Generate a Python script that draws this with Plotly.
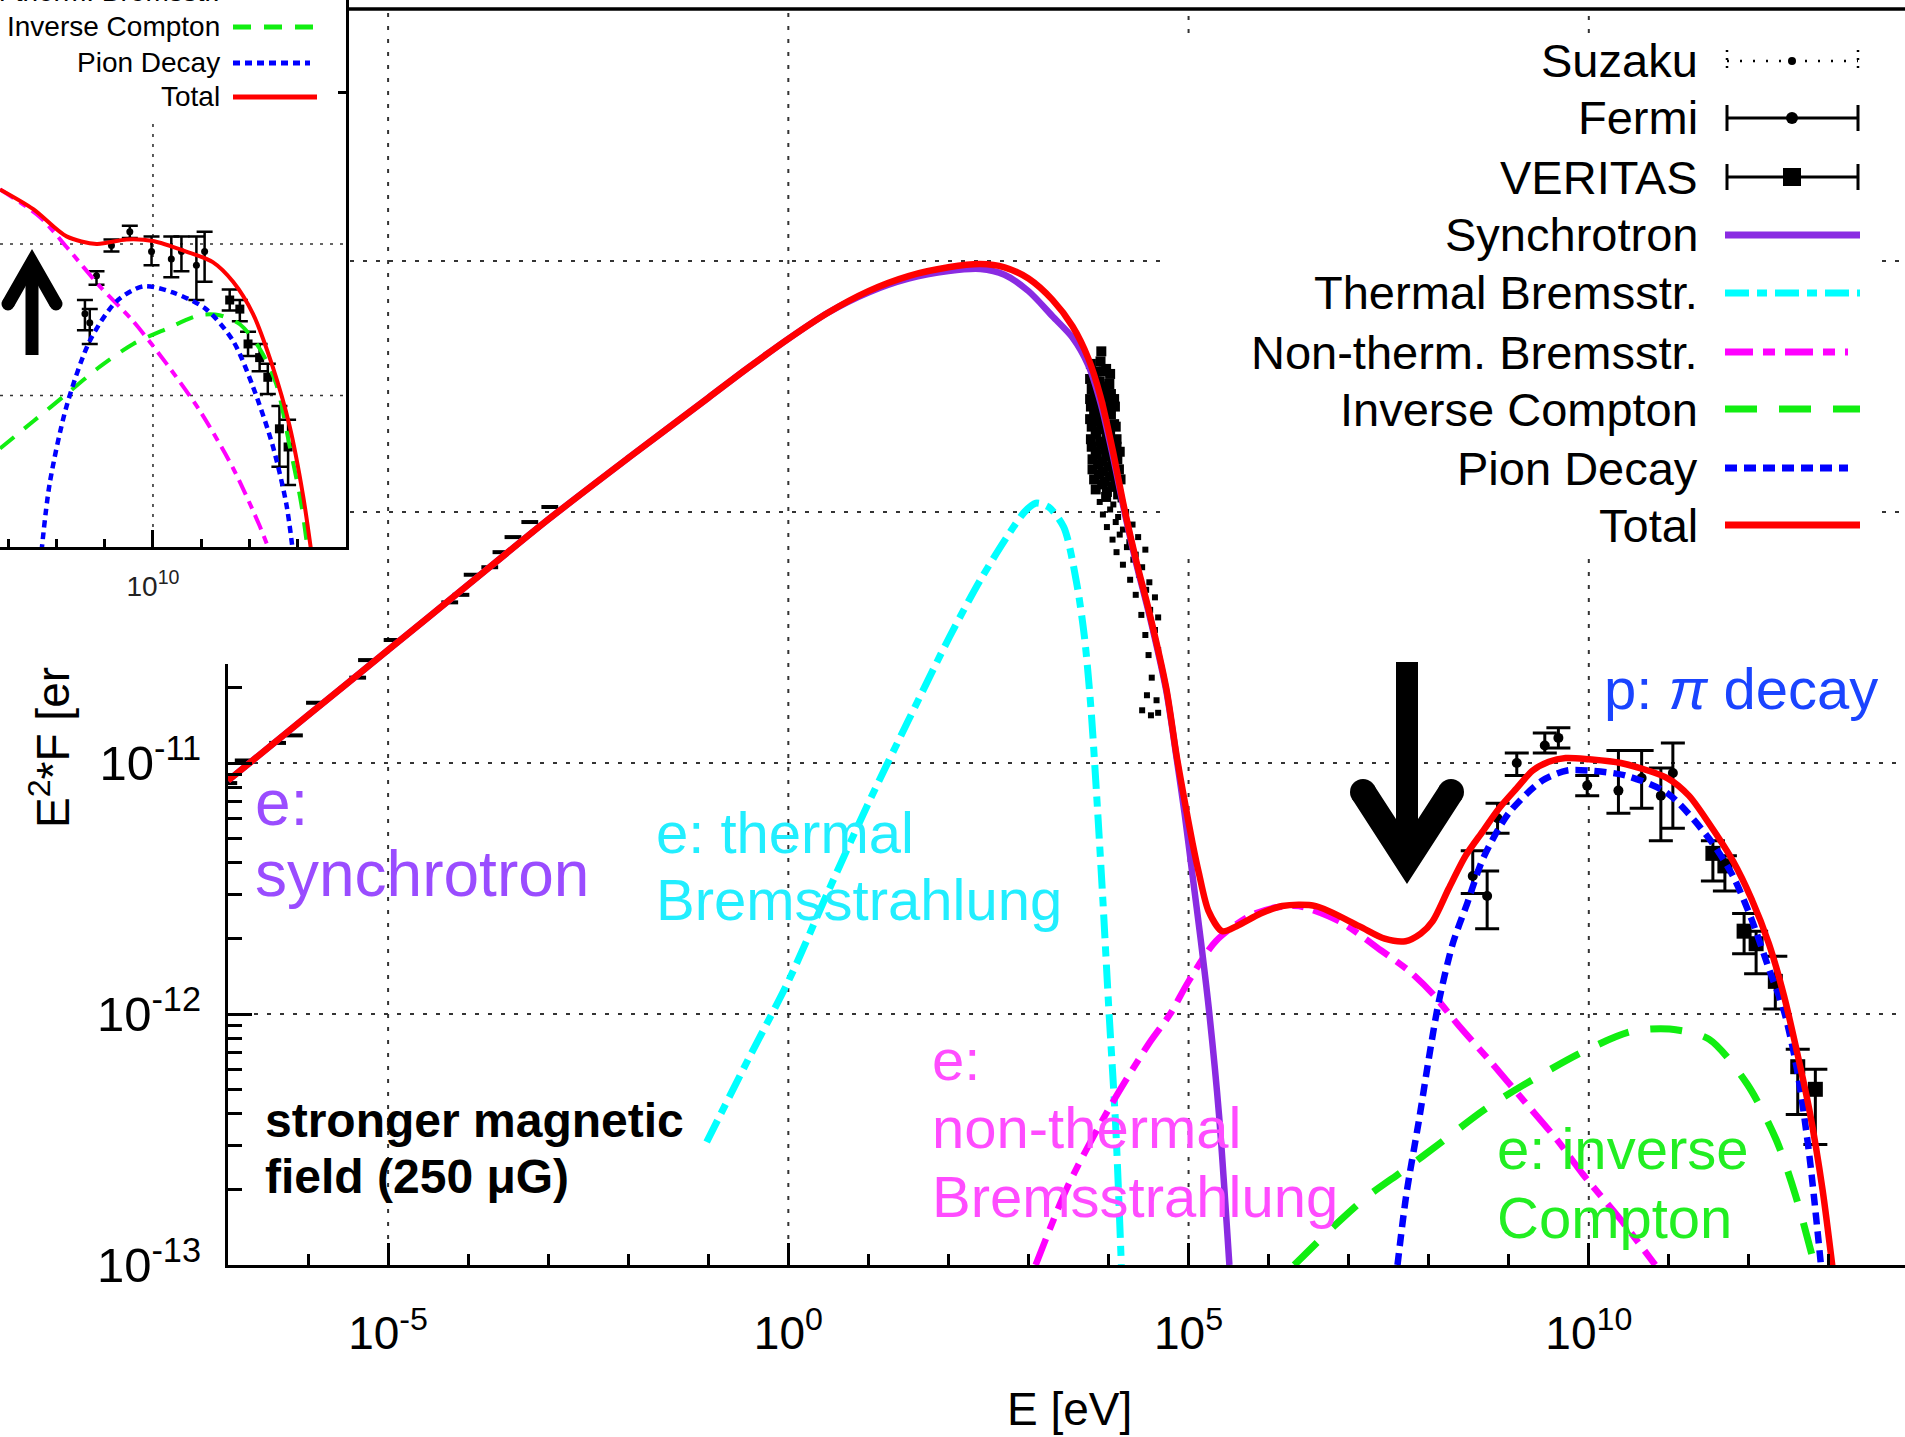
import plotly.graph_objects as go

W, H = 1905, 1437
FONT = "Liberation Sans, Arial, Helvetica, sans-serif"

# ---------------- main panel: log10(E/eV) and log10(E^2 F) ----------------
total_logE = [-7.0, -6.0, -5.0, -4.0, -3.0, -2.0, -1.0, -0.5, 0.0, 0.5, 1.0, 1.5, 2.0, 2.4, 2.7, 3.0, 3.3, 3.55, 3.75, 3.9, 4.05,
              4.2, 4.35, 4.51, 4.72, 4.85, 4.95, 5.05, 5.13, 5.25, 5.42, 5.6, 5.9, 6.17, 6.59, 7.13, 7.45, 7.71, 7.9, 8.05, 8.25, 8.46,
              8.68, 8.88, 9.1, 9.3, 9.5, 9.71, 10.0, 10.4, 10.98, 11.25, 11.5, 11.8, 12.03, 12.25, 12.44, 12.6, 12.76, 12.92, 13.06]
total_logF = [-11.07, -10.81, -10.55, -10.29, -10.03, -9.785, -9.545, -9.425, -9.31, -9.205, -9.12, -9.06, -9.025, -9.012, -9.025, -9.07, -9.155, -9.26, -9.39, -9.54, -9.75,
              -9.99, -10.20, -10.40, -10.70, -10.97, -11.15, -11.32, -11.44, -11.59, -11.67, -11.65, -11.60, -11.57, -11.57, -11.65, -11.70, -11.71, -11.68, -11.63, -11.50, -11.37,
              -11.27, -11.18, -11.10, -11.03, -10.995, -10.98, -10.985, -11.0, -11.06, -11.13, -11.24, -11.39, -11.54, -11.72, -11.93, -12.15, -12.39, -12.70, -13.05]

sync_logE = [-7.0, -6.0, -5.0, -4.0, -3.0, -2.0, -1.0, -0.5, 0.0, 0.5, 1.0, 1.5, 2.0, 2.4, 2.7, 3.0, 3.3, 3.55, 3.75, 3.9, 4.05,
             4.2, 4.35, 4.51, 4.72, 4.85, 4.95, 5.05, 5.15, 5.25, 5.38, 5.51]
sync_logF = [-11.07, -10.81, -10.55, -10.29, -10.03, -9.785, -9.545, -9.425, -9.31, -9.205, -9.125, -9.07, -9.04, -9.032, -9.055, -9.12, -9.22, -9.305, -9.417, -9.565, -9.77,
             -10.0, -10.21, -10.41, -10.71, -10.98, -11.2, -11.45, -11.7, -11.97, -12.4, -13.0]

thermal_logE = [-1.02, -0.5, 0.0, 0.5, 1.0, 1.5, 2.01, 2.4, 2.73, 2.95, 3.09, 3.25, 3.44, 3.60, 3.70, 3.78, 3.85, 3.93, 4.0, 4.09, 4.16]
thermal_logF = [-12.51, -12.18, -11.87, -11.51, -11.16, -10.83, -10.50, -10.27, -10.10, -10.0, -9.965, -9.98, -10.06, -10.28, -10.50, -10.78, -11.12, -11.55, -11.96, -12.45, -13.0]

nonth_logE = [3.09, 3.5, 4.0, 4.5, 4.77, 5.0, 5.34, 5.76, 6.1, 6.38, 6.88, 7.42, 7.76, 8.05, 8.36, 8.8, 9.2, 9.6, 9.93, 10.4, 10.83]
nonth_logF = [-13.0, -12.68, -12.38, -12.12, -12.0, -11.87, -11.71, -11.61, -11.575, -11.57, -11.63, -11.75, -11.83, -11.92, -12.04, -12.20, -12.35, -12.50, -12.64, -12.82, -13.0]

ic_logE = [6.32, 6.8, 7.22, 7.7, 8.12, 8.7, 9.2, 9.93, 10.53, 11.01, 11.5, 11.98, 12.34, 12.58, 12.82]
ic_logF = [-13.0, -12.85, -12.73, -12.62, -12.52, -12.38, -12.28, -12.15, -12.07, -12.06, -12.10, -12.28, -12.50, -12.72, -13.0]

pion_logE = [7.61, 7.72, 7.88, 8.0, 8.12, 8.3, 8.48, 8.68, 9.0, 9.42, 9.73, 10.0, 10.46, 10.98, 11.5, 11.8, 12.03, 12.25, 12.44, 12.6, 12.75, 12.9]
pion_logF = [-13.0, -12.72, -12.42, -12.18, -11.96, -11.72, -11.56, -11.38, -11.20, -11.07, -11.03, -11.03, -11.05, -11.12, -11.30, -11.45, -11.62, -11.82, -11.99, -12.22, -12.55, -13.0]

radio_logE = [-6.99, -6.81, -6.38, -6.17, -5.92, -5.38, -5.27, -4.95, -4.23, -4.09, -3.95, -3.73, -3.59, -3.44, -3.23, -2.98]
radio_logF = [-11.08, -10.99, -10.92, -10.89, -10.76, -10.66, -10.59, -10.51, -10.36, -10.33, -10.25, -10.22, -10.16, -10.10, -10.04, -9.98]

suzaku_logE = [3.91,
               3.78, 3.85, 3.90, 3.97, 4.02, 3.77, 3.82, 3.89, 3.94, 4.01, 3.79, 3.84, 3.91, 3.96, 4.03,
               3.77, 3.83, 3.88, 3.95, 4.02, 4.07, 3.78, 3.85, 3.90, 3.97, 4.03, 4.08, 3.77, 3.82, 3.89, 3.94, 4.01, 4.07,
               3.79, 3.84, 3.91, 3.96, 4.02, 4.09, 3.78, 3.85, 3.90, 3.98, 4.03, 4.10, 3.79, 3.84, 3.91, 3.96, 4.04, 4.10, 4.14,
               3.80, 3.85, 3.92, 3.97, 4.05, 4.11, 3.80, 3.87, 3.93, 4.00, 4.06, 4.13, 3.82, 3.88, 3.95, 4.02, 4.09, 4.15,
               3.84, 3.92, 3.98, 4.05, 4.12, 3.89, 3.97, 4.06, 4.15, 3.93, 4.02, 4.12, 4.22, 3.98, 4.09, 4.18, 4.30,
               4.05, 4.14, 4.26, 4.37, 4.10, 4.23, 4.34, 4.46, 4.18, 4.31, 4.42, 4.27, 4.38, 4.51, 4.34, 4.47, 4.58,
               4.41, 4.52, 4.62, 4.46, 4.58, 4.50, 4.62, 4.54, 4.48, 4.60, 4.42, 4.53, 4.62]
suzaku_logF = [-9.36,
               -9.41, -9.44, -9.40, -9.43, -9.45, -9.47, -9.45, -9.48, -9.44, -9.49, -9.51, -9.49, -9.52, -9.50, -9.53,
               -9.55, -9.53, -9.56, -9.54, -9.57, -9.55, -9.58, -9.60, -9.57, -9.59, -9.61, -9.58, -9.63, -9.61, -9.64, -9.62, -9.60, -9.65,
               -9.66, -9.68, -9.65, -9.67, -9.69, -9.66, -9.71, -9.69, -9.72, -9.70, -9.73, -9.71, -9.74, -9.76, -9.73, -9.75, -9.77, -9.74, -9.76,
               -9.79, -9.77, -9.80, -9.78, -9.81, -9.79, -9.83, -9.81, -9.84, -9.82, -9.85, -9.83, -9.87, -9.85, -9.88, -9.86, -9.89, -9.87,
               -9.91, -9.89, -9.92, -9.90, -9.93, -9.96, -9.94, -9.97, -9.95, -10.01, -9.99, -10.02, -10.00, -10.06, -10.04, -10.07, -10.05,
               -10.11, -10.09, -10.12, -10.10, -10.16, -10.14, -10.17, -10.15, -10.21, -10.19, -10.22, -10.27, -10.25, -10.28, -10.33, -10.31, -10.34,
               -10.41, -10.39, -10.42, -10.49, -10.47, -10.57, -10.55, -10.66, -10.73, -10.75, -10.79, -10.81, -10.80]

fermi_logE = [8.55, 8.73, 8.86, 9.10, 9.45, 9.62, 9.98, 10.37, 10.66, 10.90, 11.05]
fermi_logF = [-11.45, -11.53, -11.22, -11.00, -10.93, -10.90, -11.09, -11.11, -11.06, -11.13, -11.04]
fermi_lo = [-11.52, -11.66, -11.28, -11.05, -10.96, -10.94, -11.13, -11.20, -11.18, -11.31, -11.26]
fermi_hi = [-11.35, -11.43, -11.16, -10.96, -10.88, -10.86, -11.05, -10.95, -10.95, -11.02, -10.92]

ver_logE = [11.55, 11.70, 11.94, 12.09, 12.33, 12.61, 12.83]
ver_logF = [-11.36, -11.41, -11.67, -11.72, -11.87, -12.21, -12.30]
ver_lo = [-11.47, -11.51, -11.76, -11.84, -11.98, -12.40, -12.52]
ver_hi = [-11.31, -11.37, -11.60, -11.67, -11.77, -12.14, -12.22]

# ---------------- inset panel (weaker field model) ----------------
in_total_logE = [6.83, 7.52, 8.21, 8.83, 9.45, 10.0, 10.69, 11.24, 11.66, 12.07, 12.48, 12.83, 13.11, 13.28]
in_total_logF = [-10.64, -10.77, -10.95, -11.0, -10.97, -10.98, -11.05, -11.12, -11.25, -11.46, -11.81, -12.20, -12.66, -13.03]
in_nonth_logE = [6.83, 7.65, 8.21, 8.90, 9.59, 10.28, 10.97, 11.66, 12.21, 12.42]
in_nonth_logF = [-10.64, -10.82, -11.02, -11.28, -11.51, -11.79, -12.10, -12.48, -12.86, -13.03]
in_pion_logE = [7.69, 7.86, 8.21, 8.69, 9.24, 9.79, 10.41, 11.10, 11.66, 12.07, 12.48, 12.76, 12.90]
in_pion_logF = [-13.03, -12.58, -12.07, -11.64, -11.38, -11.28, -11.32, -11.43, -11.64, -11.94, -12.33, -12.71, -13.03]
in_ic_logE = [6.83, 7.52, 8.21, 8.90, 9.59, 10.28, 10.97, 11.38, 11.80, 12.21, 12.55, 12.83, 13.07, 13.21]
in_ic_logF = [-12.35, -12.17, -11.99, -11.81, -11.66, -11.56, -11.47, -11.47, -11.53, -11.69, -11.92, -12.33, -12.71, -13.03]
in_fermi_logE = [8.59, 8.69, 8.83, 9.14, 9.52, 9.97, 10.38, 10.59, 10.90, 11.07]
in_fermi_logF = [-11.46, -11.52, -11.21, -11.01, -10.92, -11.05, -11.10, -11.05, -11.14, -11.05]
in_fermi_lo = [-11.57, -11.66, -11.27, -11.05, -10.96, -11.14, -11.22, -11.18, -11.37, -11.25]
in_fermi_hi = [-11.37, -11.43, -11.18, -10.97, -10.88, -10.95, -10.95, -10.95, -10.95, -10.92]
in_ver_logE = [11.59, 11.80, 11.97, 12.21, 12.38, 12.62, 12.80]
in_ver_logF = [-11.37, -11.43, -11.66, -11.75, -11.88, -12.22, -12.34]
in_ver_lo = [-11.44, -11.51, -11.74, -11.84, -11.99, -12.47, -12.59]
in_ver_hi = [-11.30, -11.37, -11.58, -11.66, -11.79, -12.07, -12.16]

# tick labels
x_major_exp = [-5, 0, 5, 10]
y_major_exp = [-13, -12, -11]
inset_x_major_exp = [10]

legend_names = ["Suzaku", "Fermi", "VERITAS", "Synchrotron", "Thermal Bremsstr.",
                "Non-therm. Bremsstr.", "Inverse Compton", "Pion Decay", "Total"]
inset_legend_names = ["Non-therm. Bremsstr.", "Inverse Compton", "Pion Decay", "Total"]

# ---------------- colours / styles ----------------
C_SYNC, C_TH, C_NT, C_IC, C_PI, C_TOT = "#8a2be2", "#00ffff", "#ff00ff", "#11ee11", "#0000ff", "#ff0000"
D_TH, D_NT, D_IC, D_PI = "24px,8px,10px,8px", "28px,10px,12px,10px", "32px,22px", "12px,7px"


def P(v):
    return [10 ** a for a in v]


def err(logv, lo, hi):
    plus = [10 ** h - 10 ** v for v, h in zip(logv, hi)]
    minus = [10 ** v - 10 ** l for v, l in zip(logv, lo)]
    return plus, minus


# geometry in pixels
PL, PT, PB = 228, 10, 1265
XR = [-7.0, 13.95]
YR = [-13.0, -8.0]
IN_R, IN_B = 346, 547
IXR = [6.83, 14.0]
IYR = [-13.0, -9.39]


def lx(X):
    return XR[0] + (X - PL) / (W - PL) * (XR[1] - XR[0])


def ly(Y):
    return YR[1] - (Y - PT) / (PB - PT) * (YR[1] - YR[0])


def ily(Y):
    return IYR[1] - Y / IN_B * (IYR[1] - IYR[0])


def px(X):
    return X / W


def py(Y):
    return 1 - Y / H


fig = go.Figure()

# ---- main gridlines (gnuplot-like, hidden behind key box and inset) ----
box_x0, box_x1, box_y0, box_y1 = lx(1160), lx(1882), ly(552), ly(33)
inset_x_edge, inset_y_edge = lx(IN_R + 4), ly(IN_B + 2)
gx, gy = [], []
for v in x_major_exp:
    segs = [(YR[0], YR[1])]
    if box_x0 < v < box_x1:
        segs = [(YR[0], box_y0), (box_y1, YR[1])]
    for a, b in segs:
        gx += [10 ** v, 10 ** v, None]
        gy += [10 ** a, 10 ** b, None]
for v in [-12, -11, -10, -9]:
    start = inset_x_edge if v > inset_y_edge else XR[0]
    segs = [(start, XR[1])]
    if box_y0 < v < box_y1:
        segs = [(start, box_x0), (box_x1, XR[1])]
    for a, b in segs:
        gx += [10 ** a, 10 ** b, None]
        gy += [10 ** v, 10 ** v, None]
fig.add_trace(go.Scatter(x=gx, y=gy, mode="lines", line=dict(color="#333", width=2, dash="4px,9px"),
                         hoverinfo="skip", xaxis="x", yaxis="y"))

# ---- main data ----
suzaku_size = [10 if f > -9.95 else 6 for f in suzaku_logF]
fig.add_trace(go.Scatter(x=P(suzaku_logE), y=P(suzaku_logF), mode="markers",
                         marker=dict(symbol="square", size=suzaku_size, color="black", opacity=1,
                                     line=dict(width=0)), xaxis="x", yaxis="y"))
fig.add_trace(go.Scatter(x=P(radio_logE), y=P(radio_logF), mode="markers",
                         marker=dict(symbol="line-ew", size=12, line=dict(width=4, color="black")), xaxis="x", yaxis="y"))
fp, fm = err(fermi_logF, fermi_lo, fermi_hi)
fig.add_trace(go.Scatter(x=P(fermi_logE), y=P(fermi_logF), mode="markers",
                         marker=dict(symbol="circle", size=10, color="black"),
                         error_y=dict(type="data", array=fp, arrayminus=fm, color="black", thickness=3, width=12),
                         xaxis="x", yaxis="y"))
vp, vm = err(ver_logF, ver_lo, ver_hi)
fig.add_trace(go.Scatter(x=P(ver_logE), y=P(ver_logF), mode="markers",
                         marker=dict(symbol="square", size=15, color="black"),
                         error_y=dict(type="data", array=vp, arrayminus=vm, color="black", thickness=3, width=12),
                         xaxis="x", yaxis="y"))


# ---- main model curves ----
def curve(xs, ys, color, width, dash=None, xa="x", ya="y"):
    fig.add_trace(go.Scatter(x=P(xs), y=P(ys), mode="lines",
                             line=dict(color=color, width=width, dash=dash, shape="spline", smoothing=0.8),
                             xaxis=xa, yaxis=ya))


curve(thermal_logE, thermal_logF, C_TH, 7, D_TH)
curve(nonth_logE, nonth_logF, C_NT, 6.5, D_NT)
curve(ic_logE, ic_logF, C_IC, 7, D_IC)
curve(pion_logE, pion_logF, C_PI, 6.5, D_PI)
curve(sync_logE, sync_logF, C_SYNC, 6.5)
curve(total_logE, total_logF, C_TOT, 6.5)

# ---- inset gridlines ----
igx, igy = [], []
for v in inset_x_major_exp:
    igx += [10 ** v, 10 ** v, None]
    igy += [10 ** IYR[0], 10 ** ily(120), None]
for v in [-12, -11]:
    igx += [10 ** IXR[0], 10 ** IXR[1], None]
    igy += [10 ** v, 10 ** v, None]
fig.add_trace(go.Scatter(x=igx, y=igy, mode="lines", line=dict(color="#333", width=1.6, dash="3px,7px"),
                         xaxis="x2", yaxis="y2"))

ifp, ifm = err(in_fermi_logF, in_fermi_lo, in_fermi_hi)
fig.add_trace(go.Scatter(x=P(in_fermi_logE), y=P(in_fermi_logF), mode="markers",
                         marker=dict(symbol="circle", size=7, color="black"),
                         error_y=dict(type="data", array=ifp, arrayminus=ifm, color="black", thickness=2.5, width=8),
                         xaxis="x2", yaxis="y2"))
ivp, ivm = err(in_ver_logF, in_ver_lo, in_ver_hi)
fig.add_trace(go.Scatter(x=P(in_ver_logE), y=P(in_ver_logF), mode="markers",
                         marker=dict(symbol="square", size=9, color="black"),
                         error_y=dict(type="data", array=ivp, arrayminus=ivm, color="black", thickness=2.5, width=8),
                         xaxis="x2", yaxis="y2"))
curve(in_nonth_logE, in_nonth_logF, C_NT, 4, "16px,7px,8px,7px", "x2", "y2")
curve(in_ic_logE, in_ic_logF, C_IC, 4, "18px,13px", "x2", "y2")
curve(in_pion_logE, in_pion_logF, C_PI, 4.5, "7px,5px", "x2", "y2")
curve(in_total_logE, in_total_logF, C_TOT, 4, None, "x2", "y2")

# ---------------- shapes ----------------
shapes = []


def line_px(X0, Y0, X1, Y1, color="black", width=3, dash=None):
    shapes.append(dict(type="line", xref="paper", yref="paper", x0=px(X0), y0=py(Y0), x1=px(X1), y1=py(Y1),
                       line=dict(color=color, width=width, dash=dash), layer="above"))


def circle_px(X, Y, r, color="black"):
    shapes.append(dict(type="circle", xref="paper", yref="paper", x0=px(X - r), x1=px(X + r), y0=py(Y + r), y1=py(Y - r),
                       fillcolor=color, line=dict(width=0), layer="above"))


def rect_px(X0, Y0, X1, Y1, color="black"):
    shapes.append(dict(type="rect", xref="paper", yref="paper", x0=px(X0), x1=px(X1), y0=py(Y1), y1=py(Y0),
                       fillcolor=color, line=dict(width=0), layer="above"))


def arrow(tx, ty, a, b, t, shaft_w, tail_y, d):
    # d=+1: arrow pointing down, d=-1: pointing up (screen pixels)
    ln = (a * a + b * b) ** 0.5
    nL = (-b / ln, d * a / ln)
    nR = (b / ln, d * a / ln)
    L = (tx - a, ty - d * b)
    R = (tx + a, ty - d * b)
    Lo = (L[0] + nL[0] * t / 2, L[1] + nL[1] * t / 2)
    Li = (L[0] - nL[0] * t / 2, L[1] - nL[1] * t / 2)
    Ro = (R[0] + nR[0] * t / 2, R[1] + nR[1] * t / 2)
    Ri = (R[0] - nR[0] * t / 2, R[1] - nR[1] * t / 2)
    To = (tx, ty + d * t * ln / (2 * a))
    Ti = (tx, ty - d * t * ln / (2 * a))
    pts = [Li, Lo, To, Ro, Ri, Ti]
    path = "M " + " L ".join(f"{px(p[0]):.5f},{py(p[1]):.5f}" for p in pts) + " Z"
    shapes.append(dict(type="path", xref="paper", yref="paper", path=path, fillcolor="black",
                       line=dict(width=0), layer="above"))
    circle_px(L[0], L[1], t / 2)
    circle_px(R[0], R[1], t / 2)
    rect_px(tx - shaft_w / 2, min(tail_y, ty), tx + shaft_w / 2, max(tail_y, ty))


# frame pieces of the main panel
line_px(PL - 1.5, 664, PL - 1.5, PB + 3, width=3)
line_px(IN_R + 3, PT - 1, W, PT - 1, width=3.5)

# arrows
arrow(1407, 860, 44, 68, 26, 22, 662, +1)
arrow(32, 262, 24, 42, 13, 13, 355, -1)

# main key samples
key_rows = [61, 118, 177, 235, 293, 352, 409, 468, 525]
SX0, SX1, SXM = 1725, 1860, 1792
line_px(SX0 + 2, key_rows[0], SX1 - 2, key_rows[0], width=2.5, dash="2px,11px")
line_px(SX0 + 2, key_rows[0] - 11, SX0 + 2, key_rows[0] + 11, width=2.5, dash="2px,6px")
line_px(SX1 - 2, key_rows[0] - 11, SX1 - 2, key_rows[0] + 11, width=2.5, dash="2px,6px")
circle_px(SXM, key_rows[0], 4)
for r, sym in [(key_rows[1], "c"), (key_rows[2], "s")]:
    line_px(SX0 + 2, r, SX1 - 2, r, width=3)
    line_px(SX0 + 2, r - 13, SX0 + 2, r + 13, width=3)
    line_px(SX1 - 2, r - 13, SX1 - 2, r + 13, width=3)
    if sym == "c":
        circle_px(SXM, r, 6)
    else:
        rect_px(SXM - 9, r - 9, SXM + 9, r + 9)
line_px(SX0, key_rows[3], SX1, key_rows[3], C_SYNC, 7)
line_px(SX0, key_rows[4], SX1, key_rows[4], C_TH, 7, D_TH)
line_px(SX0, key_rows[5], 1848, key_rows[5], C_NT, 7, D_NT)
line_px(SX0, key_rows[6], SX1, key_rows[6], C_IC, 7, D_IC)
line_px(SX0, key_rows[7], 1848, key_rows[7], C_PI, 7, D_PI)
line_px(SX0, key_rows[8], SX1, key_rows[8], C_TOT, 7)

# inset key samples
in_rows = [-9, 27, 63, 97]
line_px(233, in_rows[0], 317, in_rows[0], C_NT, 5, "16px,7px,8px,7px")
line_px(233, in_rows[1], 317, in_rows[1], C_IC, 5, "18px,13px")
line_px(233, in_rows[2], 310, in_rows[2], C_PI, 5, "7px,5px")
line_px(233, in_rows[3], 317, in_rows[3], C_TOT, 5)

# ---------------- annotations ----------------
ann = []


def text_px(X, Y, s, size, color="black", xanchor="left", bold=False, angle=0):
    ann.append(dict(x=px(X), y=py(Y), xref="paper", yref="paper", text=(f"<b>{s}</b>" if bold else s),
                    showarrow=False, xanchor=xanchor, yanchor="middle", textangle=angle,
                    font=dict(family=FONT, size=size, color=color)))


for name, r in zip(legend_names, key_rows):
    text_px(1700, r, name, 47, xanchor="right")
for name, r in zip(inset_legend_names, in_rows):
    text_px(222, r, name, 28, xanchor="right")

text_px(253, 803, "e:", 64, "#9a4cff")
text_px(253, 874, "synchrotron", 64, "#9a4cff")
text_px(654, 832, "e: thermal", 58, "#22eeff")
text_px(654, 899, "Bremsstrahlung", 58, "#22eeff")
text_px(930, 1059, "e:", 58, "#ff4cff")
text_px(930, 1127, "non-thermal", 58, "#ff4cff")
text_px(930, 1196, "Bremsstrahlung", 58, "#ff4cff")
text_px(1495, 1148, "e: inverse", 58, "#22ee22")
text_px(1495, 1217, "Compton", 58, "#22ee22")
text_px(1602, 688, "p: <i>π</i> decay", 58, "#1a44ff")
text_px(263, 1120, "stronger magnetic", 48, bold=True)
text_px(263, 1176, "field (250 μG)", 48, bold=True)

text_px(1069, 1409, "E [eV]", 46, xanchor="center")
text_px(50, 748, "E<sup>2</sup>*F [er", 46, xanchor="center", angle=-90)

# ---------------- axes ----------------
x_minor = [10 ** k for k in range(-6, 14) if k not in x_major_exp]
y_minor = [m * 10 ** k for k in (-13, -12) for m in range(2, 10)] + [2e-11]
ix_minor = [10 ** k for k in range(7, 14) if k not in inset_x_major_exp]

fig.update_layout(
    width=W, height=H, margin=dict(l=0, r=0, t=0, b=0), template="none",
    paper_bgcolor="white", plot_bgcolor="white", showlegend=False,
    font=dict(family=FONT, color="black"),
    xaxis=dict(domain=[PL / W, 1.0], type="log", range=XR, anchor="y",
               showline=True, linewidth=3, linecolor="black", mirror=False,
               showgrid=False, zeroline=False, automargin=False,
               ticks="inside", tickvals=[10 ** e for e in x_major_exp],
               ticktext=[f"10<sup>{e}</sup>" for e in x_major_exp],
               ticklen=22, tickwidth=3, tickcolor="black",
               tickfont=dict(family=FONT, size=46, color="black"), ticklabelstandoff=26,
               minor=dict(ticks="inside", tickmode="array", tickvals=x_minor, ticklen=11, tickwidth=3,
                          tickcolor="black", showgrid=False)),
    yaxis=dict(domain=[1 - PB / H, 1 - PT / H], type="log", range=YR, anchor="x",
               showline=False, showgrid=False, zeroline=False, automargin=False,
               ticks="inside", tickvals=[10 ** e for e in y_major_exp],
               ticktext=[f"10<sup>{e}</sup>" for e in y_major_exp],
               ticklen=24, tickwidth=3, tickcolor="black",
               tickfont=dict(family=FONT, size=49, color="black"), ticklabelstandoff=26,
               minor=dict(ticks="inside", tickmode="array", tickvals=y_minor, ticklen=14, tickwidth=3,
                          tickcolor="black", showgrid=False)),
    xaxis2=dict(domain=[0, IN_R / W], type="log", range=IXR, anchor="y2",
                showline=True, linewidth=3, linecolor="black", showgrid=False, zeroline=False, automargin=False,
                ticks="inside", tickvals=[10 ** e for e in inset_x_major_exp],
                ticktext=[f"10<sup>{e}</sup>" for e in inset_x_major_exp],
                ticklen=17, tickwidth=2.5, tickcolor="black",
                tickfont=dict(family=FONT, size=28, color="#222"), ticklabelstandoff=12,
                minor=dict(ticks="inside", tickmode="array", tickvals=ix_minor, ticklen=8, tickwidth=2.5,
                           tickcolor="black", showgrid=False)),
    yaxis2=dict(domain=[1 - IN_B / H, 1.0], type="log", range=IYR, anchor="x2", side="right",
                showline=True, linewidth=3, linecolor="black", showgrid=False, zeroline=False, automargin=False,
                ticks="inside", tickvals=[1e-10], ticklen=8, tickwidth=2.5, tickcolor="black",
                showticklabels=False),
    shapes=shapes, annotations=ann,
)

fig.write_html("out.html")
